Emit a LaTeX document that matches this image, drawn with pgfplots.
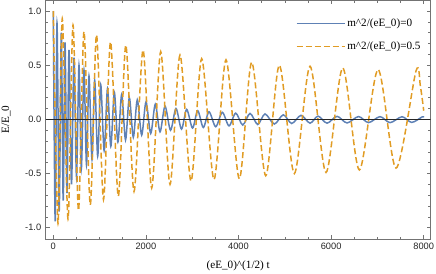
\documentclass[border=0pt]{standalone}
\usepackage{fontspec}
\setmainfont{Liberation Serif}
\setsansfont{Liberation Sans}
\usepackage{pgfplots}
\pgfplotsset{compat=1.18}
\definecolor{mblue}{RGB}{94,129,181}
\definecolor{morange}{RGB}{225,156,36}
\begin{document}
\begin{tikzpicture}
\begin{axis}[
  scale only axis, width=385bp, height=238.5bp,
  xmin=-164, xmax=8151, ymin=-1.104, ymax=1.097,
  axis line style={black!55, line width=0.6bp},
  tick pos=both, tick align=inside,
  xtick={0,2000,4000,6000,8000}, xticklabels={0,2000,4000,6000,8000},
  minor x tick num=3,
  ytick={-1,-0.5,0,0.5,1}, yticklabels={-1.0,-0.5,0.0,0.5,1.0},
  minor y tick num=4,
  major tick length=4bp, minor tick length=2.5bp,
  every tick/.style={black!55, line width=0.5bp},
  tick label style={font=\sffamily\fontsize{9.3}{10}\selectfont, text=black!85},
  yticklabel style={xshift=-1bp},
  xticklabel style={yshift=-1bp},
  xlabel={(eE\_0)\^{}(1/2) t},
  ylabel={E/E\_0},
  every axis x label/.style={at={([yshift=-27bp]axis description cs:0.5,0)}, anchor=center, font=\fontsize{11.2}{12}\selectfont},
  every axis y label/.style={at={([xshift=-39.5bp]axis description cs:0,0.5)}, anchor=center, rotate=90, font=\fontsize{11.2}{12}\selectfont},
  legend style={at={(axis description cs:1,1)}, anchor=north east, xshift=-8bp, yshift=-16bp, draw=none, fill=none, font=\fontsize{11.2}{12}\selectfont, row sep=10bp, inner sep=0pt},
  legend cell align=left,
  legend image code/.code={\draw[#1] (0bp,0bp) -- (48bp,0bp);},
]
\addplot[mblue, line width=1.5bp, smooth] coordinates {
(0,1.0) (41,-0.94) (80,0.89) (127,-0.85) (173,0.80) (214,-0.75) (253,0.71) (296,-0.68) (339,0.64) (393,-0.60) (447,0.57) (501,-0.53) (555,0.50) (605,-0.46) (663,0.455) (717,-0.42) (771,0.40) (836,-0.37) (894,0.36) (959,-0.34) (1024,0.32) (1099,-0.29) (1171,0.285) (1242,-0.25) (1318,0.25) (1395,-0.21) (1477,0.23) (1560,-0.19) (1642,0.20) (1728,-0.165) (1814,0.18) (1909,-0.145) (2002,0.16) (2104,-0.13) (2203,0.14) (2305,-0.115) (2413,0.122) (2532,-0.10) (2650,0.10) (2769,-0.09) (2881,0.092) (3007,-0.08) (3119,0.08) (3240,-0.075) (3363,0.07) (3508,-0.068) (3650,0.065) (3795,-0.06) (3940,0.058) (4091,-0.052) (4249,0.055) (4415,-0.047) (4573,0.05) (4774,-0.043) (4968,0.042) (5149,-0.038) (5350,0.037) (5545,-0.035) (5718,0.03) (5912,-0.035) (6128,0.028) (6344,-0.033) (6592,0.026) (6808,-0.03) (7057,0.025) (7273,-0.03) (7532,0.024) (7741,-0.028) (7964,0.022) (8000,0.018)
};
\addlegendentry{m\^{}2/(eE\_0)=0}
\addplot[morange, line width=1.5bp, dash pattern=on 6bp off 3bp, smooth] coordinates {
(0,1.0) (102,-0.96) (194,0.93) (318,-0.92) (426,0.87) (544,-0.84) (663,0.81) (799,-0.79) (933,0.78) (1084,-0.74) (1236,0.715) (1404,-0.71) (1566,0.685) (1743,-0.665) (1938,0.64) (2125,-0.634) (2320,0.625) (2521,-0.60) (2737,0.594) (2974,-0.57) (3205,0.56) (3471,-0.555) (3730,0.55) (4018,-0.548) (4285,0.527) (4588,-0.52) (4882,0.50) (5206,-0.50) (5545,0.49) (5890,-0.49) (6251,0.475) (6610,-0.467) (7014,0.46) (7402,-0.45) (7834,0.447) (7930,0.30) (8000,0.08)
};
\addlegendentry{m\^{}2/(eE\_0)=0.5}
\addplot[black!85, line width=0.7bp, forget plot] coordinates {(-164,0) (8151,0)};
\end{axis}
\pgfresetboundingbox
\path ([xshift=-45.7bp,yshift=-35bp]current axis.south west) rectangle ([xshift=5.3bp,yshift=0.5bp]current axis.north east);
\end{tikzpicture}
\end{document}
